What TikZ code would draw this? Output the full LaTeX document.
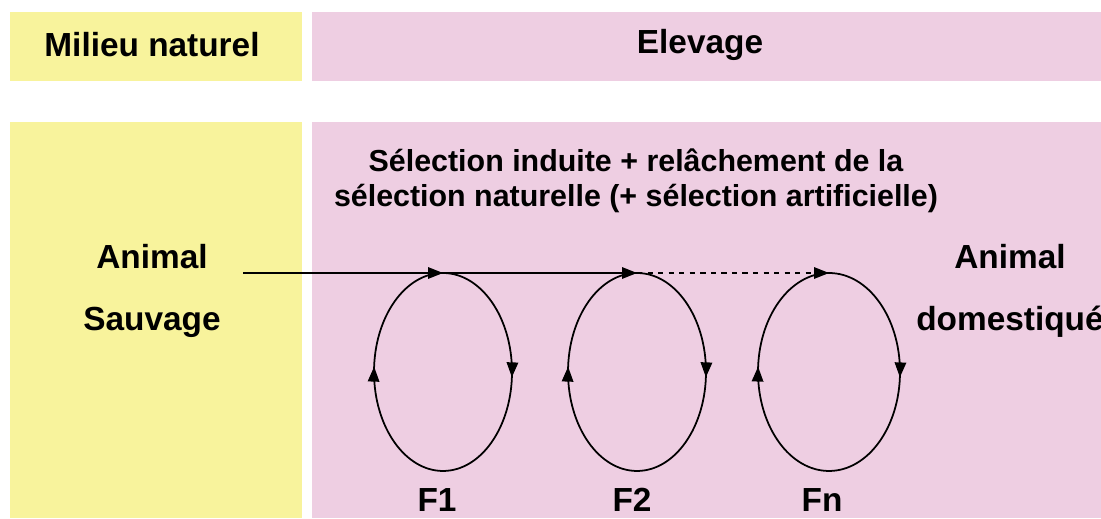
\documentclass[tikz,border=0pt]{standalone}
\usepackage{fontspec}
\setmainfont{Liberation Sans}
\usepackage{tikz}
\usetikzlibrary{arrows.meta}
\usetikzlibrary{decorations.markings}

\definecolor{jaune}{RGB}{248,243,156}
\definecolor{rose}{RGB}{238,206,226}

\tikzset{
    titre/.style={font=\bfseries\fontsize{19}{23}\selectfont},
    texte/.style={font=\bfseries\fontsize{17.3}{18}\selectfont, align=center},
    nom/.style={font=\bfseries\fontsize{19}{35}\selectfont, align=center},
    fleche/.style={line width=1pt, -{Triangle[length=8.5pt,width=6.5pt]}},
    boucle/.style={line width=1pt, postaction={decorate}, decoration={markings,
        mark=at position 0.26 with {\arrow{Triangle[length=8.5pt,width=6.5pt]}},
        mark=at position 0.76 with {\arrow{Triangle[length=8.5pt,width=6.5pt]}}}}
}

\begin{document}
\begin{tikzpicture}[x=0.02cm,y=-0.02cm]
            \useasboundingbox (0,0) rectangle (1101,518);
            \clip (0,0) rectangle (1101,518);

            % fonds
            \fill [jaune] (10,12) rectangle (302,81);
            \fill [rose] (312,12) rectangle (1101,81);
            \fill [jaune] (10,122) rectangle (302,518);
            \fill [rose] (312,122) rectangle (1101,518);

            \node [titre] (milieu) at (152,45) {Milieu naturel};
            \node [titre] (elevage) at (700,45) {Elevage};

            \node [texte] (selection) at (636,181) {S\'election induite + rel\^achement de la\\[2pt] s\'election naturelle (+ s\'election artificielle)};

            \node [nom] (sauvage) at (152,291) {Animal\\Sauvage};
            \node [nom] (domestique) at (1010,291) {Animal\\domestiqu\'e};

            \coordinate (depart) at (243,273);
            \coordinate (t1) at (443,273);
            \coordinate (t2) at (637,273);
            \coordinate (tn) at (829,273);

            % generations
            \draw [boucle] (t1) arc [start angle=90, end angle=-270, x radius=1.38cm, y radius=1.98cm];
            \draw [boucle] (t2) arc [start angle=90, end angle=-270, x radius=1.38cm, y radius=1.98cm];
            \draw [boucle] (tn) arc [start angle=90, end angle=-270, x radius=1.42cm, y radius=1.98cm];

            \node [titre] (f1) at (437,500) {F1};
            \node [titre] (f2) at (632,500) {F2};
            \node [titre] (fn) at (822,500) {Fn};

            \draw [fleche] (depart) -- (t1);
            \draw [fleche] (t1) -- (t2);
            \draw [fleche, dashed] (t2) -- (tn);
        \end{tikzpicture}
\end{document}
